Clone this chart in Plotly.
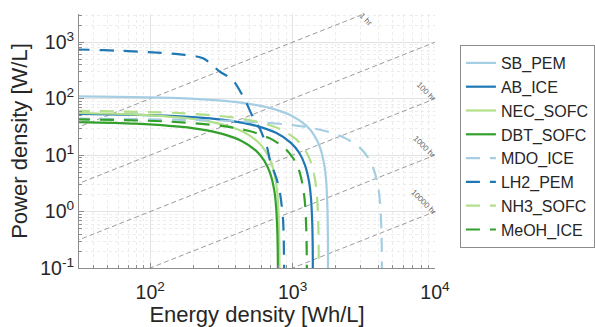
import plotly.graph_objects as go

# ---- Ragone data: energy density [Wh/L] vs power density [W/L] ----
sb_pem_E = [30, 178, 444, 710, 976, 1243, 1420, 1562, 1669, 1722, 1757, 1770, 1774]
sb_pem_P = [110, 100.8, 84, 67.2, 50.4, 33.6, 22.4, 13.4, 6.7, 3.4, 1.12, 0.34, 0.056]

ab_ice_E = [30, 139, 348, 556, 765, 973, 1112, 1223, 1307, 1348, 1376, 1386, 1389]
ab_ice_P = [53.8, 49.5, 41.3, 33, 24.8, 16.5, 11, 6.6, 3.3, 1.65, 0.55, 0.165, 0.0275]

nec_sofc_E = [30, 81, 203, 324, 446, 567, 648, 713, 761, 786, 802, 808, 810]
nec_sofc_P = [55.9, 52.2, 43.5, 34.8, 26.1, 17.4, 11.6, 7.0, 3.5, 1.74, 0.58, 0.174, 0.029]

dbt_sofc_E = [30, 79, 198, 316, 435, 553, 632, 695, 743, 766, 782, 788, 790]
dbt_sofc_P = [38.5, 36, 30, 24, 18, 12, 8, 4.8, 2.4, 1.2, 0.4, 0.12, 0.02]

mdo_ice_E = [30, 425, 1063, 1700, 2338, 2975, 3400, 3740, 3995, 4123, 4208, 4237, 4248]
mdo_ice_P = [44.2, 40, 33.4, 26.7, 20, 13.4, 8.9, 5.3, 2.67, 1.34, 0.445, 0.134, 0.022]

lh2_pem_E = [30, 37, 59, 97, 157, 235, 309, 381, 463, 527, 590, 661, 693, 777, 816, 857, 872, 876]
lh2_pem_P = [745, 736, 708, 665, 614, 521, 300, 212, 94, 47, 29, 13.9, 8.2, 3.6, 2.1, 0.71, 0.105, 0.02]

nh3_sofc_E = [30, 153, 383, 612, 842, 1071, 1224, 1346, 1438, 1484, 1515, 1525, 1529]
nh3_sofc_P = [60.8, 55.8, 46.5, 37.2, 27.9, 18.6, 12.4, 7.4, 3.7, 1.86, 0.62, 0.186, 0.031]

meoh_ice_E = [30, 126, 316, 505, 694, 883, 1010, 1111, 1186, 1224, 1249, 1258, 1261]
meoh_ice_P = [43, 39.6, 33, 26.4, 19.8, 13.2, 8.8, 5.3, 2.64, 1.32, 0.44, 0.13, 0.022]

series = [
    ("SB_PEM", sb_pem_E, sb_pem_P, "#a6cee3", "solid"),
    ("AB_ICE", ab_ice_E, ab_ice_P, "#1f78b4", "solid"),
    ("NEC_SOFC", nec_sofc_E, nec_sofc_P, "#b2df8a", "solid"),
    ("DBT_SOFC", dbt_sofc_E, dbt_sofc_P, "#33a02c", "solid"),
    ("MDO_ICE", mdo_ice_E, mdo_ice_P, "#a6cee3", "14px,10px"),
    ("LH2_PEM", lh2_pem_E, lh2_pem_P, "#1f78b4", "14px,10px"),
    ("NH3_SOFC", nh3_sofc_E, nh3_sofc_P, "#b2df8a", "14px,10px"),
    ("MeOH_ICE", meoh_ice_E, meoh_ice_P, "#33a02c", "14px,10px"),
]

# Constant discharge-time lines, P = E / t
hours = [1, 10, 100, 1000, 10000]
line_E = [10, 100000]
# label positions (log10 E, log10 P) for the annotated time lines
hour_labels = [("1 hr", 3.515, 3.407), ("100 hr", 3.937, 2.133),
               ("1000 hr", 3.923, 1.159), ("10000 hr", 3.923, 0.168)]

x_ticks = [100, 1000, 10000]
x_ticktext = ["10<sup>2</sup>", "10<sup>3</sup>", "10<sup>4</sup>"]
y_ticks = [0.1, 1, 10, 100, 1000]
y_ticktext = ["10<sup>-1</sup>", "10<sup>0</sup>", "10<sup>1</sup>", "10<sup>2</sup>", "10<sup>3</sup>"]

x_minor = [m * d for d in (10, 100, 1000) for m in range(2, 10)]
y_minor = [m * d for d in (0.1, 1, 10, 100, 1000) for m in range(2, 10)]

FONT = "Liberation Sans, Arial, sans-serif"
fig = go.Figure()

for t in hours:
    fig.add_trace(go.Scatter(
        x=line_E, y=[e / t for e in line_E], mode="lines",
        line=dict(color="#9c9c9c", width=1, dash="5px,3px"),
        showlegend=False, hoverinfo="skip"))

for name, E, P, color, dash in series:
    fig.add_trace(go.Scatter(
        x=E, y=P, mode="lines", name=name,
        line=dict(color=color, width=2.2, dash=dash, shape="spline", smoothing=0.8)))

for text, lx, ly in hour_labels:
    fig.add_annotation(x=lx, y=ly, xref="x", yref="y", text=text, showarrow=False,
                       textangle=45, font=dict(family=FONT, size=8, color="#666666"))

axis_common = dict(
    type="log", showline=True, linecolor="#8c8c8c", linewidth=1,
    ticks="inside", ticklen=5, tickcolor="#8c8c8c",
    showgrid=True, gridcolor="#e3e3e3", gridwidth=1, zeroline=False,
    tickfont=dict(family=FONT, size=19.5, color="#262626"),
    tickmode="array",
)

fig.update_xaxes(
    **axis_common, range=[1.5, 4], tickvals=x_ticks, ticktext=x_ticktext,
    ticklabelstandoff=7,
    minor=dict(tickmode="array", tickvals=x_minor, ticks="inside", ticklen=3,
               tickcolor="#8c8c8c", showgrid=True, gridcolor="#ececec", griddash="dot"),
    title=dict(text="Energy density [Wh/L]", font=dict(family=FONT, size=22, color="#262626"),
               standoff=7),
)
fig.update_yaxes(
    **axis_common, range=[-1, 3.5], tickvals=y_ticks, ticktext=y_ticktext,
    minor=dict(tickmode="array", tickvals=y_minor, ticks="inside", ticklen=3,
               tickcolor="#8c8c8c", showgrid=True, gridcolor="#ececec", griddash="dot"),
    title=dict(text="Power density [W/L]", font=dict(family=FONT, size=22, color="#262626"),
               standoff=6),
)

fig.update_layout(
    width=595, height=327,
    margin=dict(l=79, r=160, t=14, b=59, autoexpand=False),
    paper_bgcolor="white", plot_bgcolor="white",
    font=dict(family=FONT, color="#262626"),
    legend=dict(x=1.07, y=0.878, xanchor="left", yanchor="top",
                bordercolor="#8c8c8c", borderwidth=1, bgcolor="white",
                font=dict(family=FONT, size=16, color="#262626"),
                tracegroupgap=0),
)

fig.write_html("out.html")
